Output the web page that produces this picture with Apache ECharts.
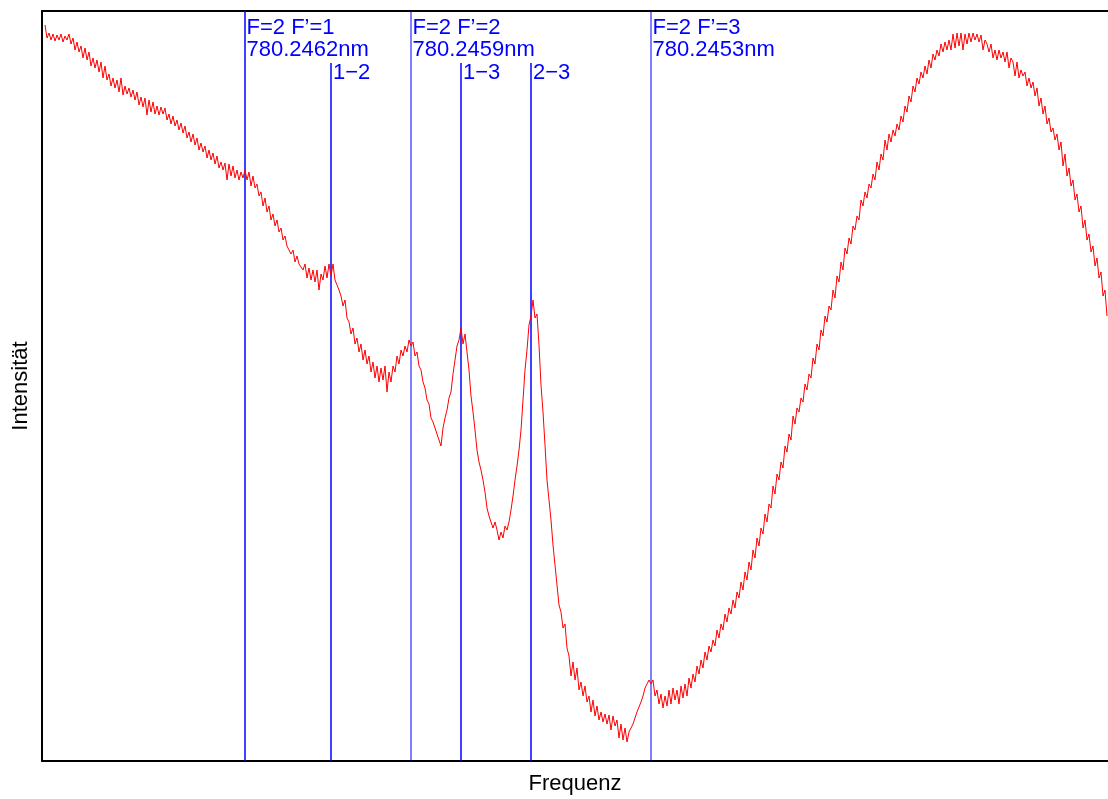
<!DOCTYPE html>
<html>
<head>
<meta charset="utf-8">
<script src="https://cdn.jsdelivr.net/npm/echarts@6/dist/echarts.min.js"></script>
<style>
  html, body { margin: 0; padding: 0; background: #fff; }
  #chart { width: 1108px; height: 799px; }
</style>
</head>
<body>
<div id="chart"></div>
<script>
// Frequenz (Kanal, willkürliche Einheit)
const frequenz = [
  2,4,6,8,10,12,14,16,18,20, 22,24,26,28,30,32,34,36,38,40,
  42,44,46,48,50,52,54,56,58,60, 62,64,66,68,70,72,74,76,78,80,
  82,84,86,88,90,92,94,96,98,100, 102,104,106,108,110,112,114,116,118,120,
  122,124,126,128,130,132,134,136,138,140, 142,144,146,148,150,152,154,156,158,160,
  162,164,166,168,170,172,174,176,178,180, 182,184,186,188,190,192,194,196,198,200,
  202,204,206,208,210,212,214,216,218,220, 222,224,226,228,230,232,234,236,238,240,
  242,244,246,248,250,252,254,256,258,260, 262,264,266,268,270,272,274,276,278,280,
  282,284,286,288,290,292,294,296,298,300, 302,304,306,308,310,312,314,316,318,320,
  322,324,326,328,330,332,334,336,338,340, 342,344,346,348,350,352,354,356,358,360,
  362,364,366,368,370,372,374,376,378,380, 382,384,386,388,390,392,394,396,398,400,
  402,404,406,408,410,412,414,416,418,420, 422,424,426,428,430,432,434,436,438,440,
  442,444,446,448,450,452,454,456,458,460, 462,464,466,468,470,472,474,476,478,480,
  482,484,486,488,490,492,494,496,498,500, 502,504,506,508,510,512,514,516,518,520,
  522,524,526,528,530,532,534,536,538,540, 542,544,546,548,550,552,554,556,558,560,
  562,564,566,568,570,572,574,576,578,580, 582,584,586,588,590,592,594,596,598,600,
  602,604,606,608,610,612,614,616,618,620, 622,624,626,628,630,632,634,636,638,640,
  642,644,646,648,650,652,654,656,658,660, 662,664,666,668,670,672,674,676,678,680,
  682,684,686,688,690,692,694,696,698,700, 702,704,706,708,710,712,714,716,718,720,
  722,724,726,728,730,732,734,736,738,740, 742,744,746,748,750,752,754,756,758,760,
  762,764,766,768,770,772,774,776,778,780, 782,784,786,788,790,792,794,796,798,800,
  802,804,806,808,810,812,814,816,818,820, 822,824,826,828,830,832,834,836,838,840,
  842,844,846,848,850,852,854,856,858,860, 862,864,866,868,870,872,874,876,878,880,
  882,884,886,888,890,892,894,896,898,900, 902,904,906,908,910,912,914,916,918,920,
  922,924,926,928,930,932,934,936,938,940, 942,944,946,948,950,952,954,956,958,960,
  962,964,966,968,970,972,974,976,978,980, 982,984,986,988,990,992,994,996,998,1000,
  1002,1004,1006,1008,1010,1012,1014,1016,1018,1020, 1022,1024,1026,1028,1030,1032,1034,1036,1038,1040,
  1042,1044,1046,1048,1050,1052,1054,1056,1058,1060, 1062,1064
];
const intensitaet = [
  735,722,727,720,726,719,725,720,726,718, 724,720,726,716,722,710,718,708,714,702,
  712,700,708,694,702,692,700,688,698,682, 694,680,686,674,682,672,680,668,682,665,
  674,666,672,663,670,660,668,655,663,653, 662,645,660,648,658,646,654,645,653,646,
  652,640,646,636,644,634,640,630,637,627, 634,622,628,618,626,615,622,610,617,608,
  614,602,610,600,607,596,604,592,598,590, 597,580,596,584,594,582,590,580,588,582,
  590,580,588,574,584,572,576,564,568,554, 562,548,554,540,546,534,540,528,532,520,
  524,514,516,506,510,498,504,496,498,490, 496,482,492,480,490,478,490,470,486,480,
  494,482,496,484,496,480,478,470,464,454, 460,442,438,426,432,416,422,408,416,400,
  410,396,404,388,398,382,394,378,392,380, 394,368,388,378,394,388,404,396,410,404,
  414,408,420,414,418,404,408,394,390,378, 372,360,356,342,338,332,334,320,314,332,
  342,350,362,368,386,400,414,420,432,416, 426,408,390,364,348,330,310,298,290,280,
  268,252,244,238,232,238,230,220,228,222, 234,230,238,250,264,280,294,310,330,360,
  390,410,435,444,460,442,446,415,375,348, 315,280,260,240,215,195,175,155,148,132,
  136,112,104,84,98,80,92,70,78,64, 74,58,64,48,60,44,54,40,48,38,
  46,36,45,30,44,34,40,22,36,20, 32,18,28,26,36,34,48,46,58,64,
  72,70,80,76,80,64,70,56,66,52, 64,54,70,56,72,60,70,56,74,62,
  76,64,82,72,86,78,94,86,100,92, 108,100,114,108,120,114,130,122,136,130,
  146,138,152,146,160,152,168,162,178,170, 188,180,198,190,210,202,222,214,232,226,
  246,238,256,252,274,266,286,280,298,292, 314,308,326,320,344,336,352,348,362,358,
  376,370,386,382,402,396,416,410,430,424, 444,438,454,450,470,462,484,478,498,490,
  512,506,522,516,534,530,544,540,560,554, 568,562,576,572,586,580,598,590,606,600,
  620,610,626,618,630,624,636,630,644,638, 654,648,664,658,674,668,682,676,688,682,
  694,686,700,692,706,700,710,704,716,708, 718,710,720,710,726,712,727,714,727,710,
  726,716,727,718,727,720,726,718,725,710, 720,716,708,716,702,710,700,710,702,708,
  698,708,692,702,698,684,698,682,690,684, 688,674,682,672,678,664,672,654,662,646,
  654,636,642,628,632,620,626,610,618,594, 606,584,592,574,580,560,566,548,554,532,
  540,520,526,508,514,494,502,482,488,464, 470,444
];

// Übergänge (Hauptlinien mit Wellenlänge) und Crossover-Resonanzen
const hauptLinien = [202, 368, 608];
const hauptLabels = ['F=2 F\u2019=1\n780.2462nm', 'F=2 F\u2019=2\n780.2459nm', 'F=2 F\u2019=3\n780.2453nm'];
const crossLinien = [288, 418, 488];
const crossLabels = ['1\u22122', '1\u22123', '2\u22123'];
const crossOben = 697;

const xMin = -1, xMax = 1065, yMin = -1, yMax = 749;

const messDaten = frequenz.map((f, i) => [f, intensitaet[i]]);

const FONT = '"Liberation Sans", Arial, Helvetica, sans-serif';
const BLAU = '#0000ff';

const linienSerien = [];
hauptLinien.forEach((x, i) => linienSerien.push({
  type: 'line', data: [[x, yMin], [x, yMax]], z: 1, silent: true, showSymbol: false, symbol: 'none',
  lineStyle: { color: BLAU, width: i === 0 ? 1.5 : 1 }, itemStyle: { color: BLAU }
}));
crossLinien.forEach(x => linienSerien.push({
  type: 'line', data: [[x, yMin], [x, crossOben]], z: 1, silent: true, showSymbol: false, symbol: 'none',
  lineStyle: { color: BLAU, width: 1.5 }, itemStyle: { color: BLAU }
}));

const labelDaten = [];
hauptLinien.forEach((x, i) => labelDaten.push({ value: [x, yMax], name: hauptLabels[i], label: { position: [1.5, 6] } }));
crossLinien.forEach((x, i) => labelDaten.push({ value: [x, crossOben], name: crossLabels[i], label: { position: [2, -1] } }));

const achsenLinie = { show: true, onZero: false, lineStyle: { color: '#000000', width: 2 } };

const chart = echarts.init(document.getElementById('chart'), null, { renderer: 'canvas' });
chart.setOption({
  animation: false,
  backgroundColor: '#ffffff',
  grid: { left: 42, right: 0, top: 11, bottom: 38, show: false, containLabel: false, outerBoundsMode: 'none' },
  xAxis: [
    {
      type: 'value', min: xMin, max: xMax, position: 'bottom',
      name: 'Frequenz', nameLocation: 'middle', nameGap: 12,
      nameTextStyle: { fontSize: 22, color: '#000', fontFamily: FONT },
      axisLine: achsenLinie, axisTick: { show: false }, axisLabel: { show: false }, splitLine: { show: false }
    },
    {
      type: 'value', min: xMin, max: xMax, position: 'top',
      axisLine: achsenLinie, axisTick: { show: false }, axisLabel: { show: false }, splitLine: { show: false }
    }
  ],
  yAxis: {
    type: 'value', min: yMin, max: yMax, position: 'left',
    name: 'Intensität', nameLocation: 'middle', nameGap: 10,
    nameTextStyle: { fontSize: 22, color: '#000', fontFamily: FONT },
    axisLine: achsenLinie, axisTick: { show: false }, axisLabel: { show: false }, splitLine: { show: false }
  },
  series: [
    ...linienSerien,
    {
      type: 'line', data: messDaten, z: 3, showSymbol: false, symbol: 'none',
      sampling: null, silent: true,
      lineStyle: { color: '#ff0000', width: 1 }, itemStyle: { color: '#ff0000' }
    },
    {
      type: 'scatter', data: labelDaten, symbolSize: 0, z: 4, silent: true,
      itemStyle: { opacity: 1 },
      label: {
        show: true, formatter: p => p.name, color: BLAU, fontSize: 22,
        lineHeight: 22, fontFamily: FONT, align: 'left', verticalAlign: 'top'
      }
    }
  ]
});
</script>
</body>
</html>
